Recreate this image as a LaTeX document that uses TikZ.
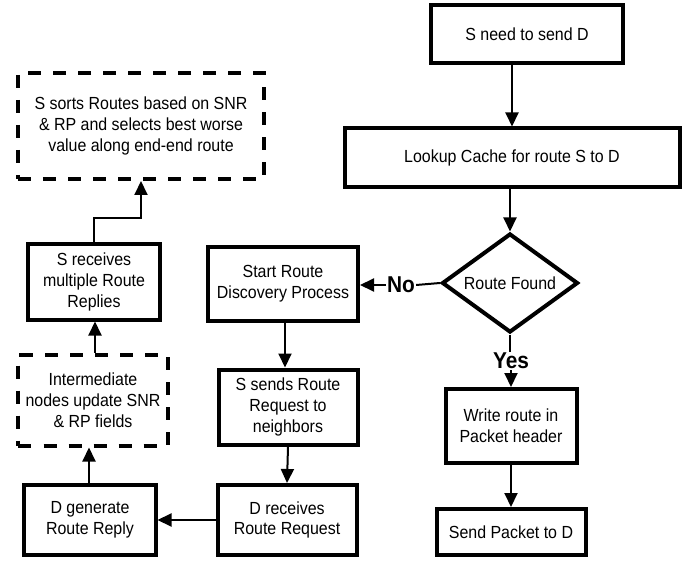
\documentclass[tikz,border=0pt]{standalone}
\usepackage{fontspec}
\setmainfont[FakeStretch=0.91]{Liberation Sans}
\usetikzlibrary{shapes.geometric,arrows.meta,calc}
\begin{document}
\begin{tikzpicture}[x=1bp,y=-1bp,
 box/.style={draw,line width=4bp,align=center,inner sep=1bp,font=\fontsize{17.6}{21}\selectfont},
 dbox/.style={box,dash pattern=on 13bp off 12bp},
 arr/.style={line width=2bp,-{Triangle[length=14bp,width=13bp]}},
 ln/.style={line width=2bp},
 lbl/.style={font=\fontsize{23}{26}\selectfont\bfseries,inner sep=1bp},
 ]
\useasboundingbox (0,0) rectangle (699,562);
% right column
\node[box,minimum width=192bp,minimum height=58bp] (start) at (527,34) {S need to send D};
\node[box,minimum width=335bp,minimum height=59bp] (lookup) at (512,158) {Lookup Cache for route S to D};
\node[box,shape=diamond,aspect=1.37,inner sep=0bp,minimum width=136bp,minimum height=99bp] (found) at (510,283) {Route Found};
\node[box,minimum width=131bp,minimum height=74bp] (write) at (511,426) {Write route in\\Packet header};
\node[box,minimum width=149bp,minimum height=46bp] (send) at (511,532) {Send Packet to D};
\node[lbl] (yes) at (511,361) {Yes};
\node[lbl] (no) at (401,285) {No};
% middle column
\node[box,minimum width=150bp,minimum height=73bp] (disc) at (283,284) {Start Route\\Discovery Process};
\node[box,minimum width=139bp,minimum height=75bp] (sends) at (288,407) {S sends Route\\Request to\\neighbors};
\node[box,minimum width=139bp,minimum height=70bp] (drecv) at (287,520) {D receives\\Route Request};
% left column
\node[box,minimum width=131bp,minimum height=70bp] (dgen) at (90,520) {D generate\\Route Reply};
\node[dbox,minimum width=149bp,minimum height=91bp] (inter) at (93,400) {Intermediate\\nodes update SNR\\\& RP fields};
\node[box,minimum width=131bp,minimum height=75bp] (srecv) at (94,282) {S receives\\multiple Route\\Replies};
\node[dbox,minimum width=246bp,minimum height=106bp] (sorts) at (141,126) {S sorts Routes based on SNR\\\& RP and selects best worse\\value along end-end route};
% connectors
\draw[arr] (lookup.north |- start.south) -- (lookup.north);
\draw[arr] (found.north |- lookup.south) -- (found.north);
\draw[ln] (found.west) -- (no.east);
\draw[arr] (no.west) -- (disc.east |- no.west);
\draw[ln] (found.south) -- (yes.north -| found.south);
\draw[arr] (yes.south -| write.north) -- (write.north);
\draw[arr] (write.south) -- (send.north);
\draw[arr] (disc.south -| 285,0) -- (sends.north -| 285,0);
\draw[arr] (sends.south) -- (drecv.north);
\draw[arr] (drecv.west) -- (dgen.east);
\draw[arr] (dgen.north -| 89,0) -- (inter.south -| 89,0);
\draw[arr] (inter.north -| 95,0) -- (srecv.south -| 95,0);
\draw[arr] (srecv.north) -- ++(0,-24) -| (sorts.south);
\end{tikzpicture}
\end{document}
